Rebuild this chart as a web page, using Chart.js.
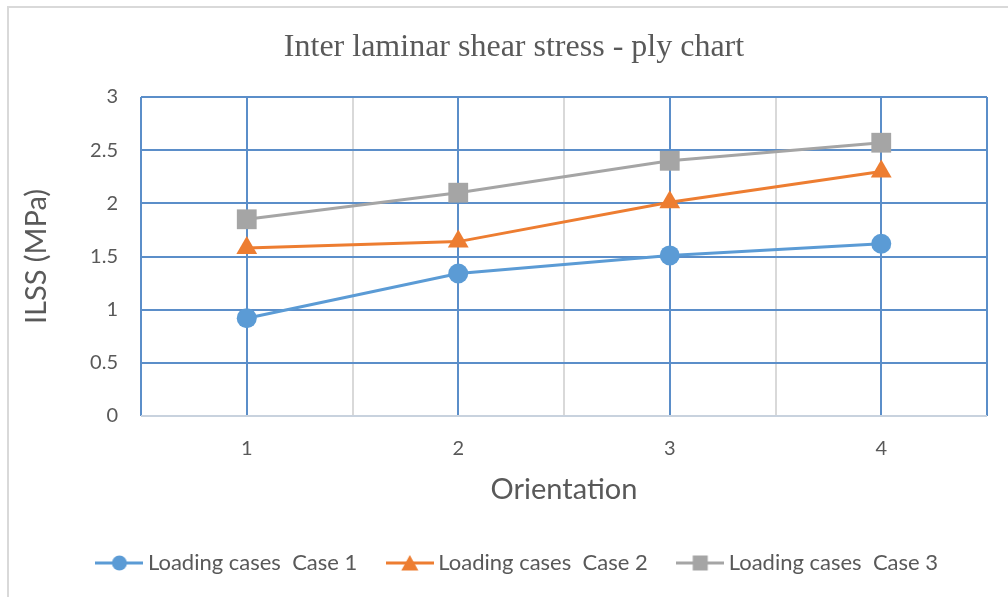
<!DOCTYPE html>
<html>
<head>
<meta charset="utf-8">
<script src="https://cdn.jsdelivr.net/npm/chart.js@4.4.0/dist/chart.umd.min.js"></script>
<style>
  html, body { margin: 0; padding: 0; background: #fff; }
</style>
</head>
<body>
<canvas id="plyChart" width="1008" height="597"></canvas>
<script>
const orientations = [1, 2, 3, 4];
const case1 = [0.92, 1.34, 1.51, 1.62];
const case2 = [1.58, 1.64, 2.01, 2.30];
const case3 = [1.85, 2.10, 2.40, 2.57];
const seriesNames = ['Loading cases  Case 1', 'Loading cases  Case 2', 'Loading cases  Case 3'];
const seriesValues = [case1, case2, case3];

const colors = ['#5b9bd5', '#ed7d31', '#a5a5a5'];
const markers = ['circle', 'triangle', 'rect'];
const markerRadius = [10, 12, 14];
const gridBlue = '#5b8ec9';
const gridGray = '#d9d9d9';
const textGray = '#595959';

// small line + marker swatch for the legend
function legendSwatch(color, style) {
  const c = document.createElement('canvas');
  c.width = 48; c.height = 20;
  const g = c.getContext('2d');
  g.strokeStyle = color; g.lineWidth = 3;
  g.beginPath(); g.moveTo(0, 10); g.lineTo(48, 10); g.stroke();
  g.fillStyle = color;
  g.beginPath();
  if (style === 'circle') g.arc(24, 10, 7.5, 0, Math.PI * 2);
  else if (style === 'triangle') { g.moveTo(24, 2); g.lineTo(32.5, 17.5); g.lineTo(15.5, 17.5); g.closePath(); }
  else g.rect(16.5, 2.5, 15, 15);
  g.fill();
  return c;
}

// light frame round the whole chart
const frame = {
  id: 'frame',
  beforeDraw(chart) {
    const ctx = chart.ctx;
    ctx.save();
    ctx.fillStyle = '#fff';
    ctx.fillRect(0, 0, chart.width, chart.height);
    ctx.strokeStyle = '#d9d9d9';
    ctx.lineWidth = 2;
    ctx.strokeRect(8, 7, 1100, 700);
    ctx.restore();
  }
};

// nudge the legend row a little to the right
const legendNudge = {
  id: 'legendNudge',
  afterLayout(chart) {
    chart.legend.left += 6;
    chart.legend.right += 6;
  }
};

const isMajor = v => Number.isInteger(v) || v === 0.5 || v === 4.5;

new Chart(document.getElementById('plyChart'), {
  type: 'line',
  data: {
    datasets: seriesNames.map((name, i) => ({
      label: name,
      data: seriesValues[i].map((v, j) => ({ x: orientations[j], y: v })),
      borderColor: colors[i],
      backgroundColor: colors[i],
      borderWidth: 3,
      pointStyle: markers[i],
      pointRadius: markerRadius[i],
      pointBorderWidth: 0,
      pointBackgroundColor: colors[i],
      tension: 0
    }))
  },
  options: {
    responsive: false,
    animation: false,
    events: [],
    layout: { padding: { left: 40, right: 20, top: 0, bottom: 13 } },
    plugins: {
      title: {
        display: true,
        text: 'Inter laminar shear stress - ply chart',
        color: textGray,
        font: { family: 'Liberation Serif', size: 32, weight: 'normal' },
        padding: { top: 28.8, bottom: 29.8 }
      },
      legend: {
        position: 'bottom',
        labels: {
          usePointStyle: true,
          pointStyleWidth: 35,
          padding: 35,
          color: textGray,
          font: { family: 'Lato', size: 22 },
          generateLabels: chart => chart.data.datasets.map((ds, i) => ({
            text: ds.label,
            pointStyle: legendSwatch(colors[i], markers[i]),
            fillStyle: colors[i],
            strokeStyle: colors[i],
            lineWidth: 0,
            fontColor: textGray,
            datasetIndex: i
          }))
        }
      },
      tooltip: { enabled: false }
    },
    scales: {
      x: {
        type: 'linear',
        min: 0.5,
        max: 4.5,
        afterFit: s => { s.height = 101; },
        ticks: {
          stepSize: 0.5,
          autoSkip: false,
          maxRotation: 0,
          padding: 21,
          color: textGray,
          font: { family: 'Lato', size: 20 },
          callback: v => Number.isInteger(v) ? v : ''
        },
        grid: {
          drawTicks: false,
          lineWidth: 2,
          color: c => isMajor(c.tick.value) ? gridBlue : gridGray
        },
        border: { display: false },
        title: {
          display: true,
          text: 'Orientation',
          color: textGray,
          font: { family: 'Lato', size: 29 },
          padding: { top: 0, bottom: 9.6 }
        }
      },
      y: {
        min: 0,
        max: 3,
        afterFit: s => { s.width = 101; },
        ticks: {
          stepSize: 0.5,
          padding: 23,
          color: textGray,
          font: { family: 'Lato', size: 20 },
          callback: v => String(v)
        },
        grid: {
          drawTicks: false,
          lineWidth: 2,
          color: c => c.tick.value === 0 ? '#c8d2de' : gridBlue
        },
        border: { display: false },
        title: {
          display: true,
          text: 'ILSS (MPa)',
          color: textGray,
          font: { family: 'Lato', size: 29 },
          padding: { top: -20.4, bottom: 0 }
        }
      }
    }
  },
  plugins: [frame, legendNudge]
});
</script>
</body>
</html>
